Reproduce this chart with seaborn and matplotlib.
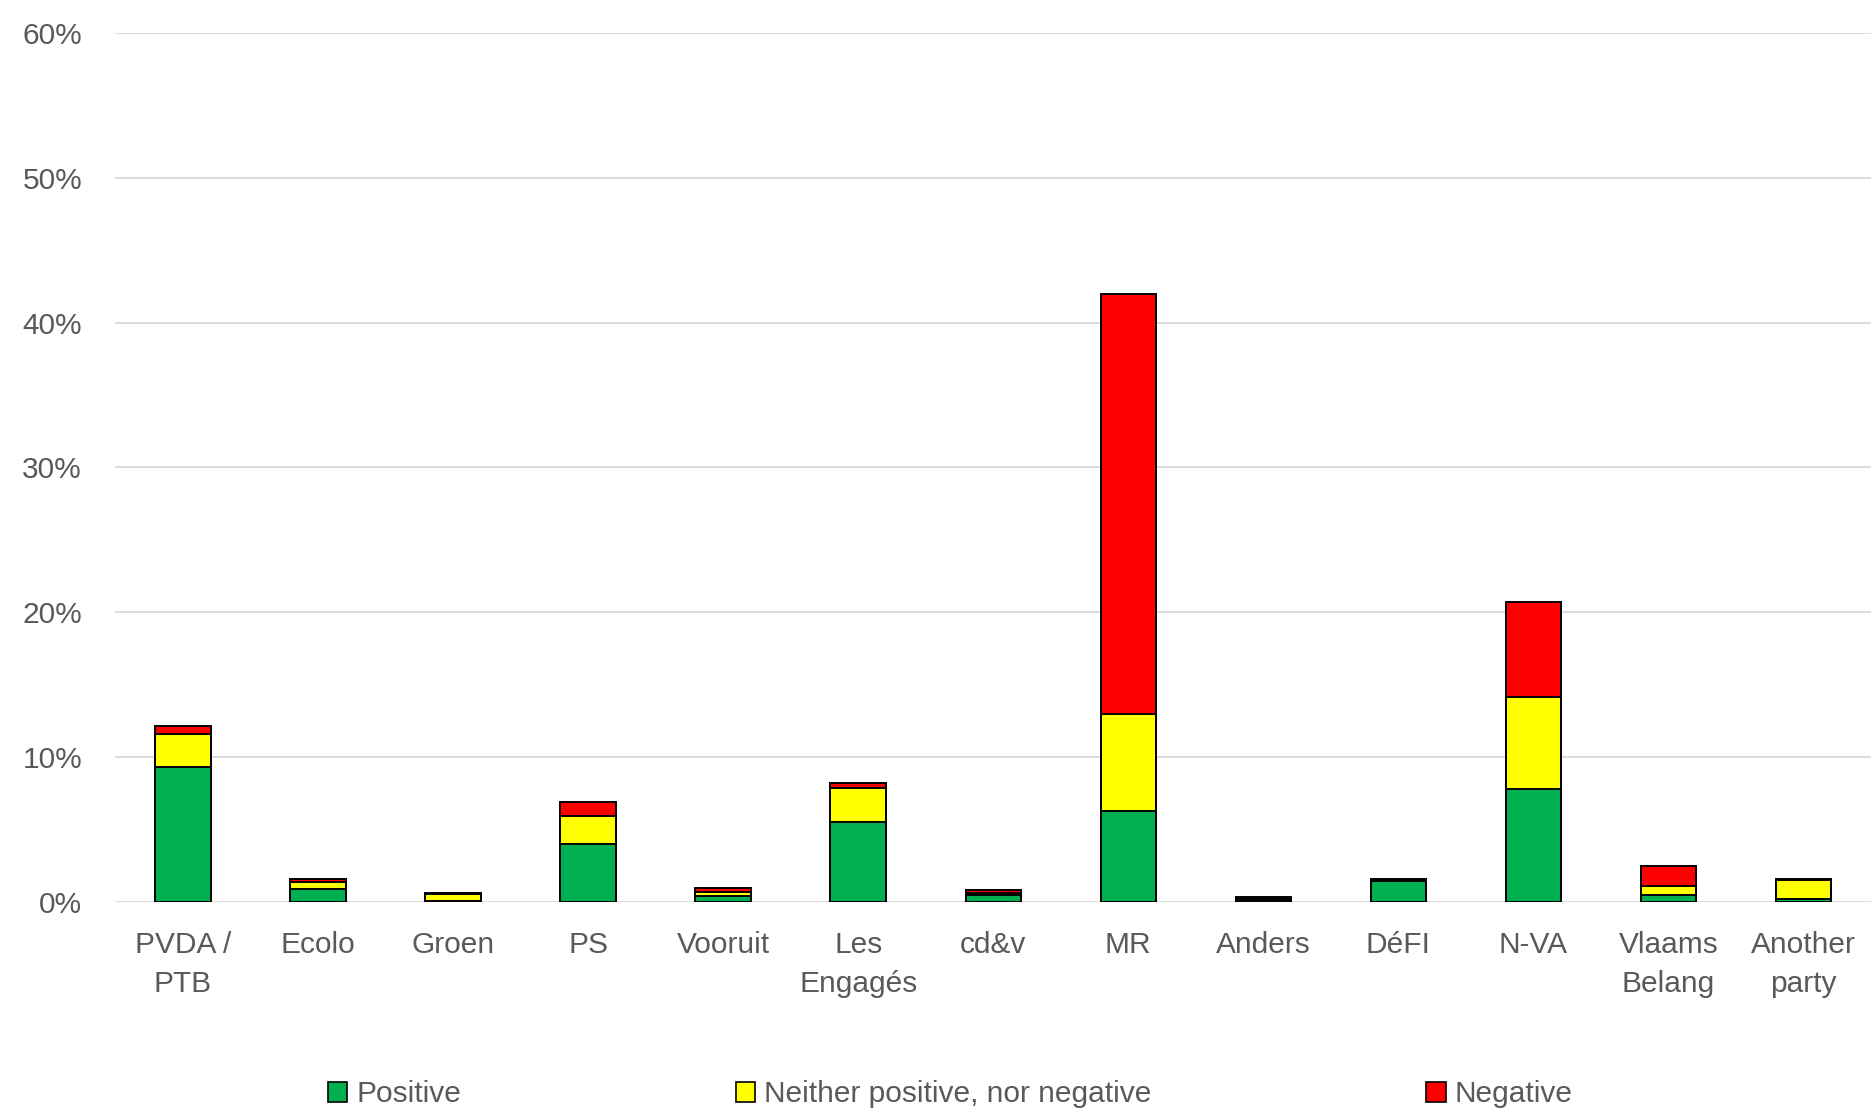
import matplotlib
matplotlib.use("Agg")
import matplotlib.pyplot as plt
import matplotlib.patches as mpatches
import seaborn as sns
import numpy as np
import pandas as pd

# Data (% of respondents)
parties = ["PVDA /\nPTB", "Ecolo", "Groen", "PS", "Vooruit", "Les\nEngagés", "cd&v",
           "MR", "Anders", "DéFI", "N-VA", "Vlaams\nBelang", "Another\nparty"]
positive = [9.3, 0.9, 0.05, 4.0, 0.4, 5.55, 0.5, 6.3, 0.1, 1.45, 7.8, 0.45, 0.2]
neutral = [2.3, 0.5, 0.5, 1.9, 0.3, 2.3, 0.1, 6.7, 0.1, 0.05, 6.35, 0.65, 1.3]
negative = [0.55, 0.15, 0.1, 1.0, 0.25, 0.35, 0.2, 29.0, 0.15, 0.05, 6.55, 1.4, 0.05]

labels = ["Positive", "Neither positive, nor negative", "Negative"]
colors = ["#00b050", "#ffff00", "#ff0000"]

df = pd.DataFrame({"party": parties, "pos": positive, "neu": neutral, "neg": negative})
df["pos_neu"] = df["pos"] + df["neu"]
df["total"] = df["pos_neu"] + df["neg"]

sns.set_style("white")
plt.rcParams["font.family"] = ["Liberation Sans", "DejaVu Sans"]

fig = plt.figure(figsize=(18.71, 11.19), dpi=100)
ax = fig.add_axes([0.0617, 0.194, 0.9383, 0.7765])

# stacked bars drawn as overlapping cumulative totals
for col, c in zip(["total", "pos_neu", "pos"], colors[::-1]):
    sns.barplot(data=df, x="party", y=col, color=c, width=0.41,
                edgecolor="black", linewidth=1.4, saturation=1, ax=ax)

ax.set_ylim(0, 60)
ax.set_xlim(-0.5, 12.5)
ax.set_yticks(np.arange(0, 61, 10))
ax.set_yticklabels([f"{v}%" for v in range(0, 61, 10)])
ax.yaxis.grid(True, color="#d9d9d9", linewidth=1.3)
ax.set_axisbelow(True)
for s in ax.spines.values():
    s.set_visible(False)
ax.set_xlabel("")
ax.set_ylabel("")
ax.tick_params(axis="both", length=0, labelsize=21.5, labelcolor="#595959")
ax.tick_params(axis="x", pad=21)
ax.tick_params(axis="y", pad=24)
for t in ax.get_xticklabels():
    t.set_linespacing(1.5)

handles = [mpatches.Patch(facecolor=c, edgecolor="black", linewidth=1.2, label=l)
           for c, l in zip(colors, labels)]
fig.legend(handles=handles, loc="center", bbox_to_anchor=(0.508, 0.022), ncol=3,
           frameon=False, fontsize=21.5, labelcolor="#595959", columnspacing=9.2,
           handlelength=0.65, handleheight=0.65, handletextpad=0.3)

fig.savefig("out.png", dpi=100)
